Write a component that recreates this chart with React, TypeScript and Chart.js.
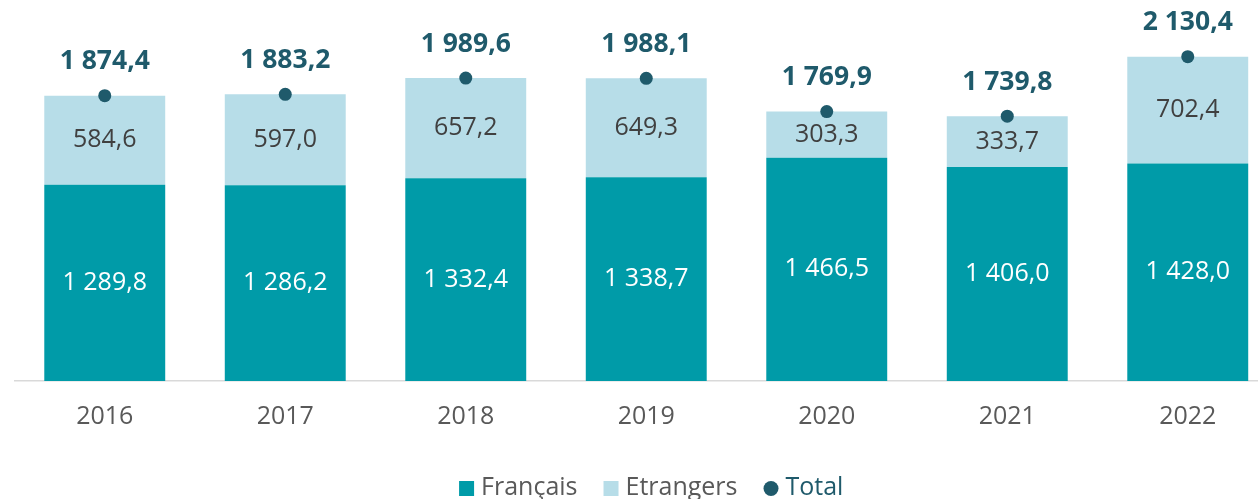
import React, { useEffect, useRef } from "react";
import { Chart, registerables } from "chart.js";

Chart.register(...registerables);

const categories = ["2016", "2017", "2018", "2019", "2020", "2021", "2022"];
const francais = [1289.8, 1286.2, 1332.4, 1338.7, 1466.5, 1406.0, 1428.0];
const etrangers = [584.6, 597.0, 657.2, 649.3, 303.3, 333.7, 702.4];
const total = [1874.4, 1883.2, 1989.6, 1988.1, 1769.9, 1739.8, 2130.4];
const seriesNames = ["Français", "Etrangers", "Total"];

const C_FR = "#009BA8";
const C_ET = "#B7DDE8";
const C_TOT = "#1F5A6B";
const FONT = "'Open Sans', 'Noto Sans', sans-serif";

function fmt(v: number): string {
  const s = v.toFixed(1);
  const [i, d] = s.split(".");
  const ii = i.replace(/\B(?=(\d{3})+(?!\d))/g, " ");
  return ii + "," + d;
}

const labelPlugin = {
  id: "labelsAndLegend",
  afterDatasetsDraw(chart: any) {
    const ctx = chart.ctx;
    ctx.save();
    ctx.textAlign = "center";
    ctx.textBaseline = "middle";
    const m0 = chart.getDatasetMeta(0);
    const m1 = chart.getDatasetMeta(1);
    const m2 = chart.getDatasetMeta(2);
    m0.data.forEach((el: any, i: number) => {
      ctx.font = `400 25px ${FONT}`;
      ctx.fillStyle = "#FFFFFF";
      ctx.fillText(fmt(francais[i]), el.x, (el.y + el.base) / 2);
    });
    m1.data.forEach((el: any, i: number) => {
      ctx.font = `400 25px ${FONT}`;
      ctx.fillStyle = "#404040";
      ctx.fillText(fmt(etrangers[i]), el.x, (el.y + el.base) / 2);
    });
    m2.data.forEach((el: any, i: number) => {
      ctx.font = `700 26.5px ${FONT}`;
      ctx.fillStyle = C_TOT;
      ctx.fillText(fmt(total[i]), el.x, el.y - 34);
    });

    // legend
    ctx.font = `400 25px ${FONT}`;
    ctx.textAlign = "left";
    ctx.textBaseline = "alphabetic";
    const marker = 15;
    const gapText = 7;
    const gapItem = 26;
    const widths = seriesNames.map((n) => ctx.measureText(n).width);
    const totalW =
      widths.reduce((a, b) => a + b, 0) + 3 * (marker + gapText) + 2 * gapItem;
    const ca = chart.chartArea;
    let x = (ca.left + ca.right) / 2 + 5 - totalW / 2;
    const baseY = 495;
    const colors = [C_FR, C_ET, C_TOT];
    const textColors = ["#595959", "#595959", C_TOT];
    seriesNames.forEach((n, i) => {
      ctx.fillStyle = colors[i];
      if (i < 2) {
        ctx.fillRect(x, 481, marker, marker);
      } else {
        ctx.beginPath();
        ctx.arc(x + marker / 2, 488.5, 7.5, 0, Math.PI * 2);
        ctx.fill();
      }
      ctx.fillStyle = textColors[i];
      ctx.fillText(n, x + marker + gapText, baseY);
      x += marker + gapText + widths[i] + gapItem;
    });
    ctx.restore();
  },
};

export default function App() {
  const ref = useRef<HTMLCanvasElement | null>(null);
  useEffect(() => {
    if (!ref.current) return;
    const chart = new Chart(ref.current, {
      type: "bar",
      data: {
        labels: categories,
        datasets: [
          {
            label: seriesNames[0],
            data: francais,
            backgroundColor: C_FR,
            stack: "a",
            categoryPercentage: 1,
            barPercentage: 0.67,
            order: 2,
          },
          {
            label: seriesNames[1],
            data: etrangers,
            backgroundColor: C_ET,
            stack: "a",
            categoryPercentage: 1,
            barPercentage: 0.67,
            order: 2,
          },
          {
            type: "line",
            label: seriesNames[2],
            data: total,
            stack: "t",
            showLine: false,
            pointRadius: 6.5,
            pointHoverRadius: 6.5,
            pointBackgroundColor: C_TOT,
            pointBorderColor: C_TOT,
            pointBorderWidth: 0,
            order: 1,
          } as any,
        ],
      },
      options: {
        animation: false,
        responsive: false,
        maintainAspectRatio: false,
        events: [],
        layout: { padding: { left: 14.5, right: 12, top: 0, bottom: 0 } },
        plugins: {
          legend: { display: false },
          tooltip: { enabled: false },
        },
        scales: {
          x: {
            stacked: true,
            grid: { display: false, drawTicks: false },
            border: { display: true, color: "#D9D9D9", width: 1.5 },
            ticks: {
              color: "#595959",
              font: { family: FONT, size: 25 },
              padding: 21,
            },
            afterFit: (scale: any) => {
              scale.height = 139;
            },
          },
          y: {
            stacked: true,
            display: false,
            min: 0,
            max: 2460,
          },
        },
      },
      plugins: [labelPlugin],
    });
    return () => chart.destroy();
  }, []);
  return (
    <div
      style={{
        position: "absolute",
        left: 0,
        top: 0,
        width: 1258,
        height: 499,
        overflow: "hidden",
        background: "#fff",
      }}
    >
      <canvas ref={ref} width={1290} height={520} style={{ display: "block" }} />
    </div>
  );
}
